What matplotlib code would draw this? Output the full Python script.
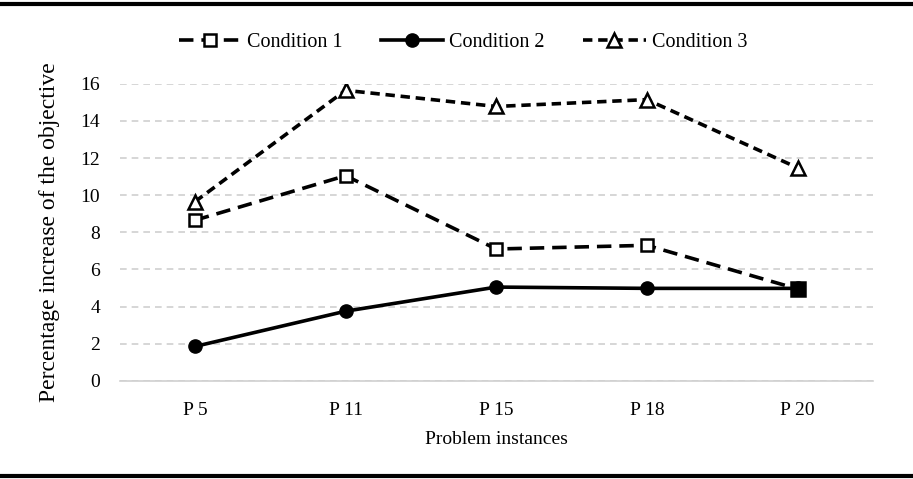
import matplotlib
matplotlib.use('Agg')
import matplotlib.pyplot as plt
from matplotlib.lines import Line2D

plt.rcParams['font.family'] = ['Liberation Serif', 'DejaVu Serif']

instances = ['P 5', 'P 11', 'P 15', 'P 18', 'P 20']
cond1 = [8.65, 11.05, 7.1, 7.3, 4.95]
cond2 = [1.85, 3.75, 5.05, 4.98, 4.98]
cond3 = [9.65, 15.65, 14.78, 15.15, 11.48]

fig = plt.figure(figsize=(9.13, 4.79), dpi=100)
ax = fig.add_axes([0.131, 0.205, 0.825, 0.62])

x = list(range(len(instances)))
ax.plot(x, cond1, color='black', lw=2.6, dashes=(4, 2.2), marker='s', ms=9,
        mfc='white', mec='black', mew=1.8, label='Condition 1', zorder=3)
ax.plot(x, cond2, color='black', lw=2.6, marker='o', ms=9.5,
        mfc='black', mec='black', label='Condition 2', zorder=4)
ax.plot(x, cond3, color='black', lw=2.6, dashes=(2.6, 1.6), marker='^', ms=10,
        mfc='white', mec='black', mew=1.8, label='Condition 3', zorder=3)
# last square sits on the circle, shows as a solid square
ax.plot(x[-1], cond1[-1], ls='none', marker='s', ms=9.5, mfc='black', mec='black',
        mew=1.8, zorder=5)

ax.set_xlim(-0.5, len(instances) - 0.5)
ax.set_ylim(0, 16)
ax.set_yticks(range(0, 17, 2))
ax.set_xticks(x)
ax.set_xticklabels(instances)
ax.tick_params(length=0, labelsize=14)
ax.tick_params(axis='x', pad=15)
ax.tick_params(axis='y', pad=14)
ax.yaxis.grid(True, color='#d0d0d0', lw=1.2, dashes=(4, 3))
for s in ['top', 'right', 'left']:
    ax.spines[s].set_visible(False)
ax.spines['bottom'].set_color('#d0d0d0')
ax.spines['bottom'].set_linewidth(1.2)

ax.set_xlabel('Problem instances', fontsize=14, labelpad=9)
ax.set_ylabel('Percentage increase of the objective', fontsize=17, labelpad=15)

fig.legend(*ax.get_legend_handles_labels(), loc='center',
           bbox_to_anchor=(0.507, 0.912), ncol=3, frameon=False,
           fontsize=14.5, handlelength=3.1, columnspacing=1.9, handletextpad=0.3)

fig.add_artist(Line2D([0, 1], [0.992, 0.992], color='black', lw=3))
fig.add_artist(Line2D([0, 1], [0.006, 0.006], color='black', lw=3))

fig.savefig('out.png', dpi=100)
